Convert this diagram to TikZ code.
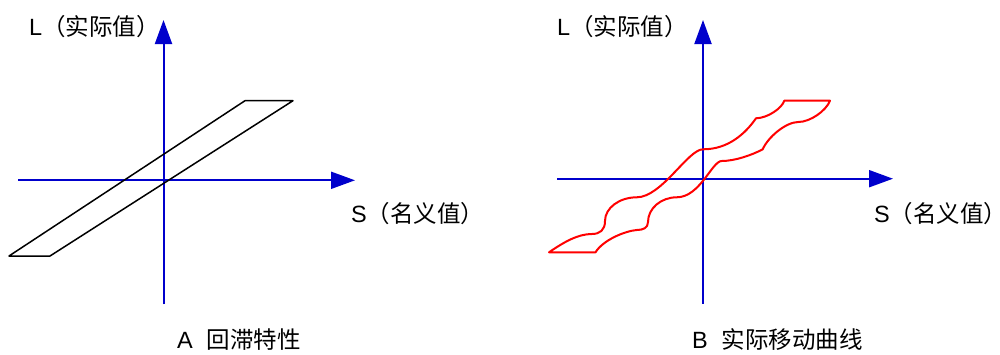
\documentclass[tikz,border=0pt]{standalone}
\usepackage{fontspec}
\setmainfont{Liberation Sans}
\newfontfamily\cjk{Noto Sans CJK SC}
\newfontfamily\cjkhalf[RawFeature=+halt]{Noto Sans CJK SC}
\usetikzlibrary{arrows.meta}
\definecolor{axisblue}{RGB}{0,0,204}
\definecolor{curvered}{RGB}{255,0,0}
\tikzset{
  axis/.style={draw=axisblue, line width=2pt, -{Triangle[width=17pt,length=24pt]}, fill=axisblue},
  hyst/.style={draw=black, line width=1.5pt, line join=round},
  real/.style={draw=curvered, line width=2pt, line join=round},
  lbl/.style={inner sep=0pt, font=\fontsize{23.5}{28}\selectfont},
}
\begin{document}
\begin{tikzpicture}[x=1pt,y=-1pt]
\useasboundingbox (0,0) rectangle (1000,354);
% ---------- panel A ----------
\coordinate (ayb) at (163.5,304);
\coordinate (ayt) at (163.5,20);
\coordinate (axl) at (18,180.3);
\coordinate (axr) at (355,180.3);
\draw[axis] (ayb) -- (ayt);
\draw[axis] (axl) -- (axr);
\coordinate (p1) at (9,256);
\coordinate (p2) at (50,256);
\coordinate (p3) at (293,100.7);
\coordinate (p4) at (245,100.7);
\draw[hyst] (p1) -- (p2) -- (p3) -- (p4) -- cycle;
\node[lbl, anchor=west] (aL) at (29,26.5) {L\cjk（实际值{\cjkhalf ）}};
\node[lbl, anchor=west] (aS) at (351,214) {S\cjk（名义值{\cjkhalf ）}};
\node[lbl, anchor=west] (aC) at (177,340) {A\hspace{0.6em}\cjk 回滞特性};
% ---------- panel B ----------
\coordinate (byb) at (703,303.5);
\coordinate (byt) at (703,20);
\coordinate (bxl) at (557,178.7);
\coordinate (bxr) at (893,178.7);
\draw[axis] (byb) -- (byt);
\draw[axis] (bxl) -- (bxr);
\draw[real]
  (549,252.3) .. controls (564,242) and (578,234) .. (591.7,234)
  .. controls (600,234) and (605,230) .. (605,221)
  .. controls (605,208) and (619.3,197.3) .. (636.7,197.3)
  .. controls (661.7,197.3) and (688,149.3) .. (703,149.3)
  .. controls (728,149.3) and (745,134) .. (756,118.3)
  .. controls (768,118) and (782,108) .. (784.3,100.7)
  -- (830,100.7)
  .. controls (826,111) and (810,122) .. (798.3,122)
  .. controls (786,122) and (768,137) .. (762.7,149.3)
  .. controls (752,155) and (735,161) .. (721.7,161)
  .. controls (712,161) and (700,197.3) .. (676.7,197.3)
  .. controls (661,197.3) and (648,208.4) .. (648,222)
  .. controls (648,228) and (643,230) .. (636.7,230)
  .. controls (625,231) and (603,240) .. (595.5,252.3)
  -- cycle;
\node[lbl, anchor=west] (bL) at (557,26.5) {L\cjk（实际值{\cjkhalf ）}};
\node[lbl, anchor=west] (bS) at (874,213.3) {S\cjk（名义值{\cjkhalf ）}};
\node[lbl, anchor=west] (bC) at (692,340) {B\hspace{0.6em}\cjk 实际移动曲线};
\end{tikzpicture}
\end{document}
